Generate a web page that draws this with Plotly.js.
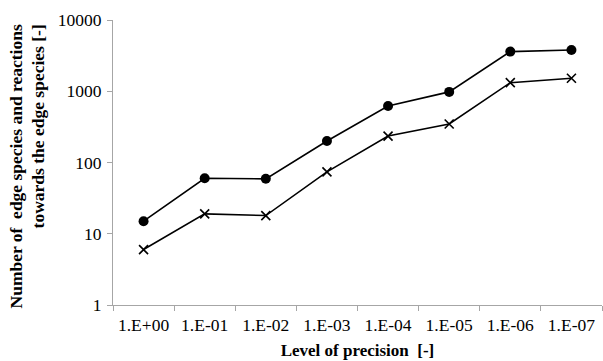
<!DOCTYPE html>
<html>
<head>
<meta charset="utf-8">
<script src="https://cdn.plot.ly/plotly-3.0.1.min.js"></script>
<style>html,body{margin:0;padding:0;background:#fff;}#chart{width:603px;height:361px;}</style>
</head>
<body>
<div id="chart"></div>
<script>
const categories = ["1.E+00","1.E-01","1.E-02","1.E-03","1.E-04","1.E-05","1.E-06","1.E-07"];
const circleSeries = [15, 60, 59, 200, 620, 980, 3600, 3800];
const crossSeries = [6, 19, 18, 74, 235, 347, 1320, 1520];
const yTickVals = [1, 10, 100, 1000, 10000];
const yTickText = ["1", "10", "100", "1000", "10000"];
const xTitle = "Level of precision  [-]";
const yTitleLines = ["Number of  edge species and reactions", "towards the edge species [-]"];

const traces = [
  {x: categories, y: circleSeries, type: "scatter", mode: "lines+markers",
   line: {color: "#000", width: 1.6},
   marker: {symbol: "circle", size: 10, color: "#000"}},
  {x: categories, y: crossSeries, type: "scatter", mode: "lines+markers",
   line: {color: "#000", width: 1.6},
   marker: {symbol: "x-thin-open", size: 9, color: "#000", line: {color: "#000", width: 1.6}}}
];

const layout = {
  width: 603, height: 361,
  margin: {l: 113, r: 1, t: 20, b: 56, pad: 0},
  paper_bgcolor: "#fff", plot_bgcolor: "#fff",
  showlegend: false,
  font: {family: "Liberation Serif, Times New Roman, serif", color: "#000", size: 17.5},
  xaxis: {
    type: "category", range: [-0.5, 7.5], tickson: "boundaries",
    showline: true, linecolor: "#a6a6a6", linewidth: 1,
    ticks: "outside", ticklen: 5, tickcolor: "#a6a6a6", tickwidth: 1,
    showgrid: false, zeroline: false,
    tickfont: {size: 17.5}, ticklabelstandoff: 4,
    title: {text: "<b>" + xTitle + "</b>", font: {size: 17}, standoff: 10}
  },
  yaxis: {
    type: "log", range: [0, 4], tickvals: yTickVals, ticktext: yTickText,
    showline: true, linecolor: "#a6a6a6", linewidth: 1,
    ticks: "outside", ticklen: 5, tickcolor: "#a6a6a6", tickwidth: 1,
    showgrid: false, zeroline: false,
    tickfont: {size: 17.5}, ticklabelstandoff: 2
  },
  annotations: [{
    text: "<b>" + yTitleLines.join("<br>") + "</b>",
    textangle: -90, align: "right",
    xref: "paper", yref: "paper", x: 0, y: 0.486,
    xanchor: "center", yanchor: "middle", xshift: -86,
    showarrow: false, font: {size: 17.5, color: "#000"}
  }]
};

Plotly.newPlot("chart", traces, layout, {displayModeBar: false, staticPlot: true});
</script>
</body>
</html>
